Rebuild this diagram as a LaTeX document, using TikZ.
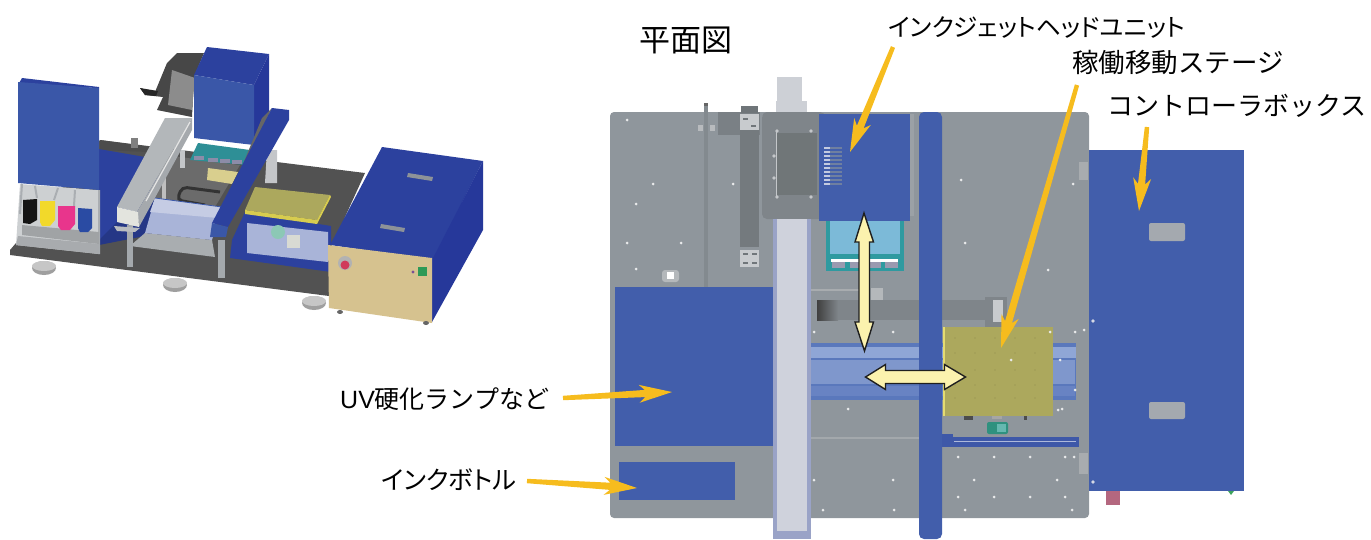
\documentclass[tikz,border=0pt]{standalone}
\usepackage{fontspec}
\usetikzlibrary{calc}
\setmainfont{Liberation Sans}
\newfontfamily\jp[RawFeature=+palt]{Noto Sans CJK JP}
\newfontfamily\jpn{Noto Sans CJK JP}
\definecolor{plate}{HTML}{8F969C}
\definecolor{carr}{HTML}{7F858A}
\definecolor{planblue}{HTML}{425EAB}
\definecolor{deepblue}{HTML}{2C419E}
\definecolor{frontblue}{HTML}{3A57A8}
\definecolor{darkblue}{HTML}{26389A}
\definecolor{arrowo}{HTML}{F6BC1E}
\definecolor{arrowy}{HTML}{FBF2AE}
\definecolor{strip}{HTML}{747A7E}
\definecolor{steel}{HTML}{AAAEB2}
\definecolor{olive}{HTML}{ACA85D}
\definecolor{lightband}{HTML}{8FA6D6}
\definecolor{midband}{HTML}{7F97CC}
\definecolor{edgeband}{HTML}{5A78BC}
\tikzset{
  HTML/.code={\definecolor{tmpc}{HTML}{#1}\pgfkeysalso{/tikz/color=tmpc}},
  lab/.style={inner sep=0pt,anchor=west,text=black},
  dbl/.style={fill=arrowy,draw=black!88,line width=1.4pt,line join=miter},
  hole/.style={fill=white!80!plate},
}
\newcommand{\oarrow}[2]{%
  \fill[arrowo] ($(#1)!2.2pt!90:(#2)$)
   -- ($($(#2)!27pt!(#1)$)!3.6pt!90:(#2)$)
   -- ($($(#2)!33pt!(#1)$)!9pt!90:(#2)$)
   -- (#2)
   -- ($($(#2)!33pt!(#1)$)!9pt!-90:(#2)$)
   -- ($($(#2)!27pt!(#1)$)!3.6pt!-90:(#2)$)
   -- ($(#1)!2.2pt!-90:(#2)$) -- cycle;}
\begin{document}
\begin{tikzpicture}[x=1pt,y=-1pt]
\useasboundingbox (0,0) rectangle (1371,539);
% ---------- 3D view
% base plate
\fill[black!68] (10,250) -- (22,236) -- (100,140) -- (365,173) -- (330,250) -- (329,296) -- (10,255) -- cycle;
\foreach \x/\y in {44/268,175/285,314/303}{
  \fill[gray!75] (\x,\y) ellipse (12 and 7);
  \fill[gray!45] (\x,\y-2) ellipse (12 and 5);
}
% back strip and mechanism
\fill[black!70] (100,140) -- (150,147) -- (148,152) -- (100,150) -- cycle;
\fill[gray] (131,138) rectangle (138,148);
\fill[deepblue] (99,149) -- (145,157) -- (117,235) -- (99,240) -- cycle;
\fill[deepblue!85!black] (117,222) -- (145,157) -- (165,160) -- (150,235) -- (99,245) -- (99,240) -- cycle;
\fill[black!72] (140,88) -- (155,92) -- (167,63) -- (177,53) -- (204,53) -- (194,77) -- (192,117) -- (157,110) -- (163,97) -- (145,95) -- cycle;
\fill[black!45] (172,70) -- (195,78) -- (192,110) -- (168,105) -- cycle;
\fill[black!85] (140,88) -- (158,91) -- (156,96) -- (145,95) -- cycle;
% inner machine
\fill[black!58] (165,155) -- (240,165) -- (215,207) -- (150,200) -- cycle;
\draw[black!80,line width=3pt,rounded corners=5pt] (220,192) -- (182,187) -- (177,200) -- (205,205);
\fill[steel!70!white] (180,150) rectangle (185,168);
\fill[gray!50] (162,175) -- (166,175) -- (166,200) -- (162,200) -- cycle;
\fill[steel!70!white] (267,150) -- (277,150) -- (277,183) -- (265,183) -- cycle;
% teal head and tray
\fill[HTML=2E8F96] (198,143) -- (250,150) -- (247,165) -- (190,160) -- cycle;
\fill[HTML=8C8CA8] (194,156) rectangle (204,160);
\fill[HTML=8C8CA8] (208,158) rectangle (218,162);
\fill[HTML=8C8CA8] (220,159) rectangle (230,163);
\fill[HTML=8C8CA8] (232,160) rectangle (242,164);
\fill[HTML=D9CF8E] (208,168) -- (238,172) -- (232,184) -- (207,180) -- cycle;
% stage
\fill[HTML=A9ADB0] (145,233) -- (212,240) -- (215,257) -- (130,246) -- cycle;
\fill[HTML=A9B4D8] (155,198) -- (222,207) -- (212,240) -- (145,233) -- cycle;
\fill[HTML=C5CCE4] (155,198) -- (222,207) -- (218,218) -- (150,212) -- cycle;
\draw[frontblue,line width=.8pt] (155,198) -- (222,207);
% legs
\fill[HTML=A4A9AD] (127,225) rectangle (133,267);
\fill[HTML=A4A9AD] (218,240) rectangle (225,278);
% gantry beam
\fill[HTML=B3B7BA] (117,207) -- (165,118) -- (192,118) -- (137,212) -- cycle;
\fill[HTML=A5A9AD] (137,212) -- (192,118) -- (192,130) -- (139,227) -- cycle;
\draw[white!80!gray,line width=1.2pt] (146,201) -- (190,122);
\fill[HTML=E3E4DE] (117,207) -- (138,212) -- (139,227) -- (117,222) -- cycle;
\fill[HTML=B9BCC0] (114,226) -- (140,228) -- (135,232) -- (117,231) -- cycle;
% ink shelf
\fill[HTML=CDD0D2] (20,184) -- (99,190) -- (99,254) -- (16,245) -- cycle;
\draw[steel,line width=2pt] (22,184) -- (20,214) (35,186) -- (37,198) (58,188) -- (54,200) (75,190) -- (74,206) (99,190) -- (99,254);
\fill[HTML=A8ABAE] (18,236) -- (99,244) -- (99,254) -- (16,245) -- cycle;
\fill[HTML=A0A3A5] (22,225) -- (99,232) -- (99,244) -- (22,235) -- cycle;
\fill[black!92] (23,200) -- (37,199) -- (37,220) -- (30,224) -- (23,223) -- cycle;
\fill[HTML=F2D92A] (40,201) -- (55,201) -- (55,220) -- (50,226) -- (42,226) -- (40,222) -- cycle;
\fill[HTML=E8358C] (58,206) -- (75,206) -- (75,224) -- (70,230) -- (61,230) -- (58,226) -- cycle;
\fill[HTML=2A4BA3] (78,208) -- (92,209) -- (92,228) -- (88,232) -- (80,232) -- (78,228) -- cycle;
% left box
\fill[deepblue] (22,78) -- (99,87) -- (99,88) -- (18,85) -- cycle;
\fill[frontblue] (18,82) -- (99,88) -- (99,190) -- (18,183) -- cycle;
% head box
\fill[deepblue] (207,47) -- (269,54) -- (254,85) -- (194,75) -- cycle;
\fill[darkblue] (269,54) -- (269,113) -- (254,145) -- (254,85) -- cycle;
\fill[frontblue] (194,75) -- (254,85) -- (254,145) -- (194,138) -- cycle;
% right beam
\fill[black!60] (262,118) -- (272,108) -- (232,190) -- (228,227) -- (226,205) -- cycle;
\fill[deepblue] (272,108) -- (289,110) -- (289,120) -- (228,227) -- (212,223) -- cycle;
\fill[frontblue] (212,223) -- (228,227) -- (226,237) -- (210,237) -- cycle;
% stage, right side
\fill[deepblue] (245,212) -- (331,226) -- (331,272) -- (230,258) -- (232,240) -- cycle;
\fill[HTML=A9B4D8] (247,223) -- (328,232) -- (328,262) -- (247,253) -- cycle;
\fill[HTML=8CC8B5] (278,232) circle (7);
\fill[HTML=D8DAD3] (287,235) rectangle (300,248);
\fill[olive] (255,187) -- (330,195) -- (317,220) -- (245,210) -- cycle;
\fill[HTML=D7CC4F] (245,210) -- (317,220) -- (330,195) -- (331,197) -- (317,224) -- (245,214) -- cycle;
% controller
\fill[deepblue] (382,147) -- (483,161) -- (433,260) -- (330,245) -- cycle;
\fill[darkblue] (483,161) -- (483,230) -- (432,322) -- (432,260) -- cycle;
\fill[HTML=D6C28F] (328,245) -- (432,258) -- (432,323) -- (329,308) -- cycle;
\fill[HTML=8D9298] (408,173) -- (433,177) -- (432,181) -- (407,177) -- cycle;
\fill[HTML=8D9298] (381,224) -- (405,228) -- (404,232) -- (380,228) -- cycle;
\fill[gray!60] (345,263) circle (7);
\fill[HTML=D03A5A] (345,265) circle (4.5);
\fill[HTML=2E9A57] (418,267) rectangle (427,276);
\fill[HTML=7A4F96] (413,272) circle (1.6);
\fill[black!60] (340,312) ellipse (3 and 2);
\fill[black!60] (426,323) ellipse (3 and 2);

% ---------- plan view
\fill[plate,rounded corners=4pt] (610,112) rectangle (1089,518);
% motor on top
\fill[HTML=CDD0D6] (777,77) rectangle (802,102);
\fill[HTML=CDD0D6] (776,101) rectangle (807,113);
% rod
\fill[HTML=838A8F] (704,104) rectangle (708,287);
\fill[HTML=B8BBBE] (698,125) rectangle (703,131);
\fill[HTML=B8BBBE] (710,125) rectangle (715,131);
\fill[black!60] (704,103) rectangle (708,106);
% strip with brackets
\fill[HTML=7A8085] (718,112) rectangle (760,135);
\fill[HTML=6F7579] (741,106) rectangle (758,113);
\fill[strip] (740,120) rectangle (759,247);
\fill[HTML=C8CBCE] (740,114) rectangle (759,130);
\fill[HTML=C8CBCE] (740,250) rectangle (759,267);
\foreach \x/\y in {743/118,751/125,743/253,752/253,743/262,752/262}{\fill[HTML=70767A] (\x,\y) rectangle (\x+5,\y+2);}
\fill[HTML=D8DADC] (762,116) rectangle (766,122);
\fill[HTML=D8DADC] (762,146) rectangle (766,151);
% small eye
\fill[HTML=B4B8BB,rounded corners=3pt] (662,270) rectangle (679,282);
\fill[white] (667,272) rectangle (674,279);
% dark bar
\draw[HTML=A8ACAF,line width=1.5pt] (811,290) -- (870,290);
\fill[HTML=B4B8BB] (871,288) rectangle (883,300);
\fill[carr] (817,300) rectangle (1000,320);
\shade[left color=black!75,right color=carr] (817,300) rectangle (838,320);
\fill[carr] (985,297) rectangle (1007,328);
\fill[HTML=C8CBCE] (993,300) rectangle (1003,322);
% linear stage
\fill[edgeband] (811,343) rectangle (1076,400);
\fill[lightband] (811,347) rectangle (1076,358);
\fill[midband] (811,360) rectangle (1075,384);
\fill[HTML=6883C3] (811,386) rectangle (1075,396);
% lines and rail
\draw[HTML=A3A8AC,line width=1.2pt] (811,438) -- (919,438);
\fill[HTML=3E58A8] (942,437) rectangle (1079,447);
\draw[HTML=AEB9DB,line width=1pt] (954,441.5) -- (1076,441.5);
\fill[HTML=3E58A8] (942,434) rectangle (953,445);
% teal head
\fill[HTML=2F9AA0] (826,221) rectangle (904,271);
\fill[HTML=7CBAD8] (830,221) rectangle (900,254);
\fill[white] (831,259) rectangle (898,262);
\foreach \x in {832,850,868,885}{\fill[HTML=9A9AB0] (\x,262) rectangle (\x+13,268);}
% carriage
\fill[carr,rounded corners=5pt] (762,112) rectangle (825,219);
\fill[HTML=707678] (777,133) rectangle (817,195);
\draw[HTML=C4C7CA,line width=.8pt] (776,131) -- (776,196);
\foreach \x/\y in {777/131,811/131,777/197,811/197,774/156,774/178}{\fill[HTML=C4C7CA] (\x,\y) circle (1.8);}
\fill[HTML=9BA1A6] (910,114) rectangle (914,216);
% head cover
\fill[planblue] (819,114) rectangle (910,221);
\foreach \y in {148,152,156,160,164,168,172,176,180,184}{
  \fill[HTML=6F7FA0] (824,\y-1) rectangle (842,\y+.6);
  \fill[HTML=C4CBE0] (824,\y-1) rectangle (830,\y+.6);
}
% vertical rail
\fill[HTML=9AA3C7] (773,219) rectangle (811,539);
\fill[HTML=CFD2DC] (777,219) rectangle (807,531);
% lower-left blue parts
\fill[planblue] (615,287) rectangle (773,446);
\fill[planblue] (619,462) rectangle (735,500);
% table
\fill[olive] (944,327) rectangle (1053,416);
\fill[HTML=E5DC70] (943,327) rectangle (945,416);
\foreach \x in {955,975,995,1015,1035}{\foreach \y in {338,353,370,385,398}{\fill[HTML=8E8C50] (\x,\y) circle (.7);}}
\fill[black!70] (964,416) rectangle (973,420);
\fill[gray!70] (992,416) rectangle (1002,419);
\fill[black!70] (1024,416) rectangle (1027,420);
\fill[HTML=2F917F,rounded corners=2pt] (987,422) rectangle (1008,434);
\fill[HTML=66B8B0] (997,424) rectangle (1006,432);
% vertical blue bar
\fill[planblue,rounded corners=5pt] (919,112) rectangle (942,539);
% brackets at right
\fill[HTML=A8ACAF] (1079,453) rectangle (1088,474);
\fill[HTML=A8ACAF] (1079,162) rectangle (1088,180);
% controller box
\fill[HTML=B4677F] (1106,491) rectangle (1120,505);
\fill[HTML=3DA35D] (1228,491) -- (1234,491) -- (1231,495) -- cycle;
\fill[planblue] (1089,150) rectangle (1244,491);
\fill[HTML=A4A9AF,rounded corners=2pt] (1149,223) rectangle (1185,241);
\fill[HTML=A4A9AF,rounded corners=2pt] (1149,402) rectangle (1185,419);
% plate holes
\foreach \x/\y in {627/120,653/184,636/204,733/184,636/269,627/243,681/243,961/180,1073/184,965/243,1048/270,1011/360,1060/360,1058/410,1084/330,
  814/332,893/332,1050/332,1075/332,958/457,994/457,1030/457,1065/457,958/497,994/497,1030/497,1065/497,814/480,893/480,974/480,1057/480,823/510,894/510,965/510,1072/510,848/409,1074/457,1075/390,1062/409}{
  \fill[hole] (\x,\y) circle (1.5);}
\foreach \x/\y in {1093/321,1093/482}{\fill[HTML=D5D9E5] (\x,\y) circle (1.8);}

% ---------- double arrows
\draw[dbl] (864,213) -- (873.5,242) -- (869.5,242) -- (869.5,322) -- (873.5,322) -- (864.5,351) -- (855,322) -- (859,322) -- (859,242) -- (855,242) -- cycle;
\draw[dbl] (865.5,377) -- (885.5,364.5) -- (885.5,370.5) -- (944.5,370.5) -- (944.5,364.5) -- (965.5,377) -- (944.5,389.5) -- (944.5,383.5) -- (885.5,383.5) -- (885.5,389.5) -- cycle;

% ---------- labels
\node[lab] (t1) at (639,40) {\jp\fontsize{31}{34}\selectfont 平面図};
\node[lab] (t2) at (888,27) {\jp\fontsize{24.6}{28}\selectfont インクジェットヘッドユニット};
\node[lab] (t3) at (1072,62) {\jpn\fontsize{26.5}{30}\selectfont 稼働移動ステージ};
\node[lab] (t4) at (1107,106) {\jpn\fontsize{26}{30}\selectfont コントローラボックス};
\node[lab] (t5) at (340,399) {\fontsize{25}{30}\selectfont UV\jpn 硬化ランプなど};
\node[lab] (t6) at (381,480) {\jp\fontsize{25.3}{29}\selectfont インクボトル};

% ---------- pointers
\coordinate (a1s) at (893,47); \coordinate (a1t) at (850,152);
\coordinate (a2s) at (1077,85); \coordinate (a2t) at (1001,348);
\coordinate (a3s) at (1147,127); \coordinate (a3t) at (1139,211);
\coordinate (a4s) at (563,398); \coordinate (a4t) at (672,392);
\coordinate (a5s) at (527,481); \coordinate (a5t) at (637,488);
\oarrow{a1s}{a1t}
\oarrow{a2s}{a2t}
\oarrow{a3s}{a3t}
\oarrow{a4s}{a4t}
\oarrow{a5s}{a5t}
\end{tikzpicture}
\end{document}
